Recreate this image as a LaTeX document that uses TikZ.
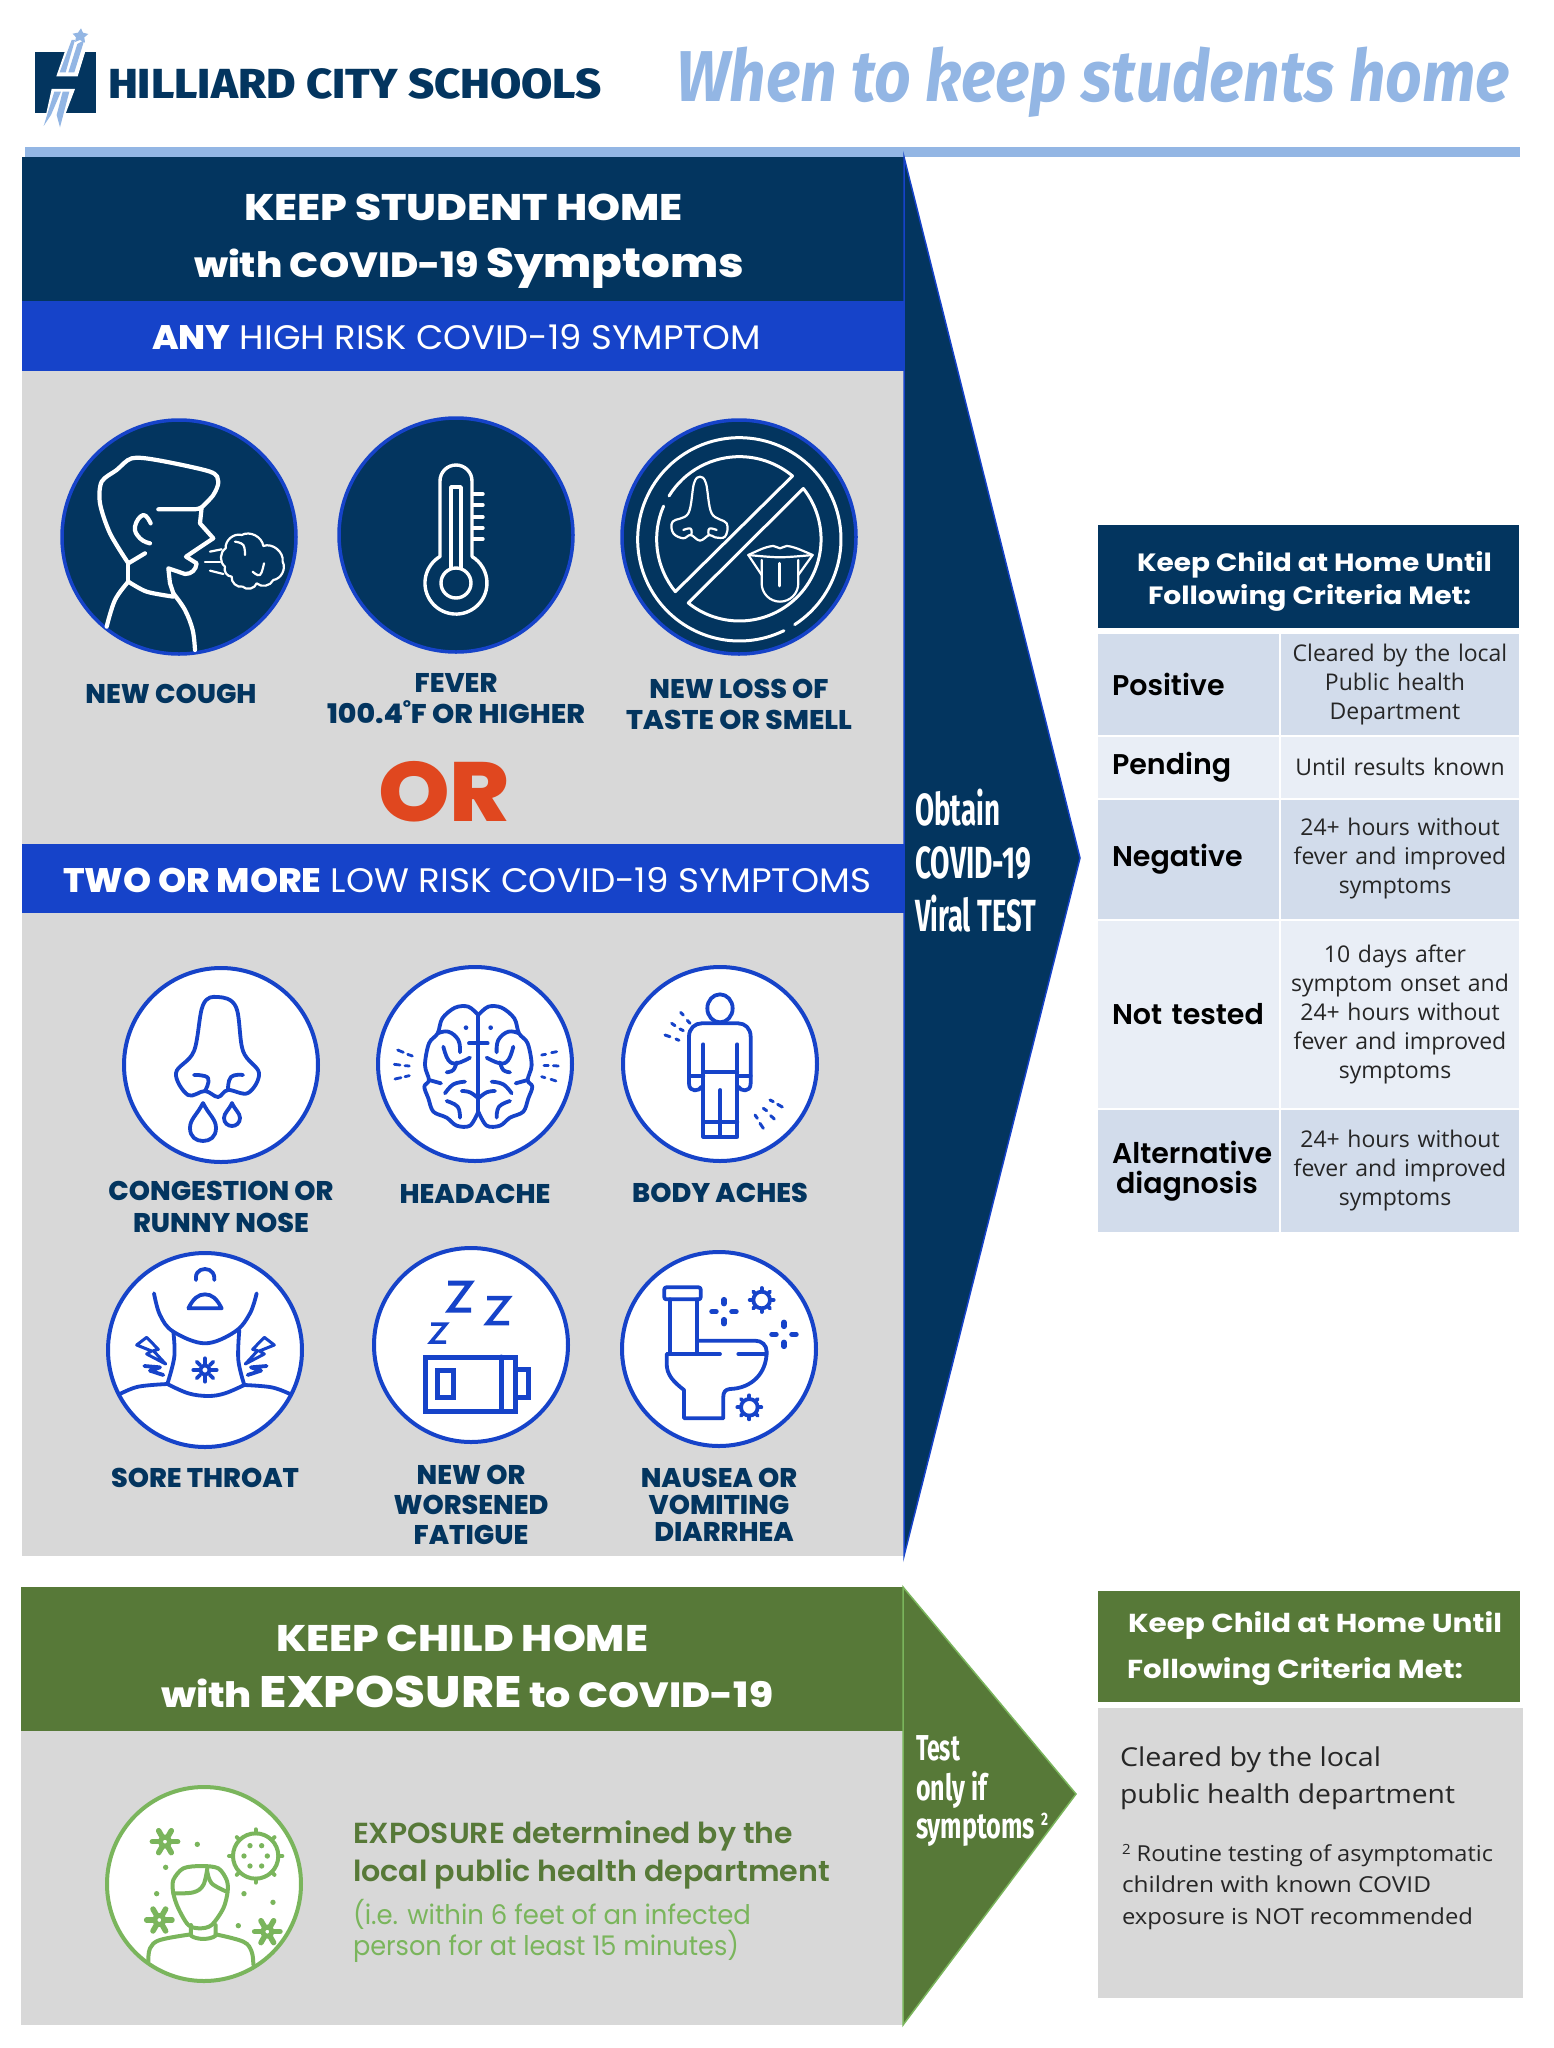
\documentclass[tikz,border=0pt]{standalone}
\usepackage{graphicx}
\usepackage{fontspec}
\setmainfont{Poppins}
\newfontfamily\narrowf{Fira Sans}
\newfontfamily\narrowb{Fira Sans ExtraBold}
\newfontfamily\bodyf{Open Sans}
\newfontfamily\blackf{Poppins ExtraBold}
\newfontfamily\semif{Poppins SemiBold}
\usetikzlibrary{positioning}
\newcommand{\fs}[2]{\fontsize{#1}{#2}\selectfont}
\newcommand{\fitw}[2]{\resizebox{#1}{\height}{#2}}
\definecolor{navy}{HTML}{03355F}
\definecolor{royal}{HTML}{1643C9}
\definecolor{pale}{HTML}{93B6E4}
\definecolor{panel}{HTML}{D8D8D8}
\definecolor{olive}{HTML}{577938}
\definecolor{leaf}{HTML}{7AB55C}
\definecolor{rowa}{HTML}{D2DCEB}
\definecolor{rowb}{HTML}{E9EEF6}
\definecolor{rust}{HTML}{E0471F}

\begin{document}
\begin{tikzpicture}[x=1pt,y=-1pt,node distance=0pt,
    band/.style={rectangle,minimum width=882pt,inner sep=0pt,outer sep=0pt},
    txt/.style={inner sep=0pt,outer sep=0pt,anchor=base west},
    lab/.style={inner sep=0pt,outer sep=0pt,align=center,text=navy,font=\blackf\fs{27}{31}},
    bigdisc/.style={circle,draw=royal,fill=navy,line width=3.5pt,minimum size=234pt,inner sep=0pt},
    smalldisc/.style={circle,draw=royal,fill=white,line width=4pt,minimum size=194pt,inner sep=0pt},
    lcell/.style={inner ysep=0pt,inner xsep=14pt,outer sep=0pt,text width=153pt,align=left,font=\semif\fs{28.5}{30}},
    rcell/.style={inner sep=0pt,outer sep=0pt,text width=238pt,align=center,text=black!85,font=\bodyf\fs{23}{29}},
    wline/.style={draw=white,line width=4.2pt,line cap=round,line join=round},
    wthin/.style={draw=white,line width=2.2pt,line cap=round,line join=round},
    bline/.style={draw=royal,line width=3.8pt,line cap=round,line join=round},
    gline/.style={draw=leaf,line width=4pt,line cap=round,line join=round}]

\useasboundingbox (0,0) rectangle (1554,2048);

\fill[navy] (35,52) rectangle (96,113);
\begin{scope}[shift={(25,20)},scale=.3333]
\fill[white] (94,169)--(130,65)--(190,65)--(158,169)--cycle;
\fill[white] (80,207)--(150,207)--(105,325)--(55,320)--cycle;
\fill[pale] (104,157)--(140,60)--(150,60)--(122,157)--cycle;
\fill[pale] (130,157)--(157,72)--(178,60)--(148,157)--cycle;
\fill[pale] (168,25)--(174,38)--(190,42)--(178,52)--(180,68)--(165,60)--(150,66)--(153,52)--(143,41)--(159,38)--cycle;
\fill[pale] (88,215)--(108,215)--(78,285)--(56,318)--cycle;
\fill[pale] (113,215)--(133,215)--(105,322)--(95,285)--cycle;
\end{scope}
\node[txt,text=navy,font=\narrowb\fs{42}{42}] (school) at (108,98) {\fitw{494pt}{HILLIARD CITY SCHOOLS}};
\node[txt,text=pale,font=\narrowf\bfseries\itshape\fs{72}{72}] (title) at (676,101) {\fitw{834pt}{When to keep students home}};
\fill[pale] (25,147) rectangle (1520,157);

\node[band,fill=navy,minimum height=144pt] (head) at (463,229) {};
\node[band,fill=royal,minimum height=70pt] (anybar) [below=of head] {};
\node[band,fill=panel,minimum height=473pt] (graya) [below=of anybar] {};
\node[band,fill=royal,minimum height=69pt] (twobar) [below=of graya] {};
\node[band,fill=panel,minimum height=643pt] (grayb) [below=of twobar] {};
\draw[fill=navy,draw=royal,line width=1.5pt] (head.north east) -- (1080,858) -- (grayb.south east) -- cycle;

\node[txt,text=white,font=\blackf\fs{37}{37}] (keepa) at (244,220) {\fitw{439pt}{KEEP STUDENT HOME}};
\node[txt,text=white,font=\blackf\fs{35}{35}] (keepb) at (194,277) {\fitw{550pt}{with COVID-19 {\fs{41}{41}Symptoms}}};
\node[txt,text=white,font=\fs{34}{34}] (anytxt) at (152,349) {\fitw{609pt}{{\blackf ANY} HIGH RISK COVID-19 SYMPTOM}};
\node[txt,text=white,font=\fs{34}{34}] (twotxt) at (63,892) {\fitw{808pt}{{\blackf TWO OR MORE} LOW RISK COVID-19 SYMPTOMS}};
\node[txt,text=rust,font=\blackf\fs{84}{84}] (ortxt) at (378,821) {\fitw{132pt}{OR}};

\node[bigdisc] (cough) at (179,537) {};
\node[bigdisc] (fever) at (456,535) {};
\node[bigdisc] (smell) at (739,537) {};
\node[lab] (coughl) [below=28pt of cough,xshift=-8pt] {NEW COUGH};
\node[lab] (feverl) [below=20pt of fever] {FEVER\\\fitw{258pt}{100.4˚F OR HIGHER}};
\node[lab] (smelll) [below=23pt of smell] {NEW LOSS OF\\\fitw{226pt}{TASTE OR SMELL}};

\begin{scope}[shift={(60,420)},scale=.3333]
\draw[wline] plot[smooth,tension=.5] coordinates {(205,430) (150,340) (120,250) (125,185) (170,150) (215,115) (290,120) (450,155) (475,185) (460,225) (425,262)};
\draw[wline] (295,268) -- (400,268) .. controls (412,268) and (420,265) .. (425,262) -- (420,310) -- (460,355) -- (415,385) -- (378,410) -- (410,430) .. controls (408,450) and (395,462) .. (375,462) -- (325,445) -- (330,490) -- (340,520);
\draw[wline] plot[smooth,tension=.6] coordinates {(340,520) (375,570) (398,630) (405,690)};
\draw[wline] plot[smooth,tension=.5] coordinates {(205,485) (260,515) (340,530)};
\draw[wline] (205,430) -- (205,485);
\draw[wline] plot[smooth,tension=.6] coordinates {(205,485) (165,540) (140,620)};
\draw[wline] (205,430) -- (255,400);
\draw[wline] plot[smooth,tension=.8] coordinates {(272,310) (250,285) (225,320) (240,355) (270,370)};
\draw[wthin] (495,440) to[bend left=55] (497,385) to[bend left=55] (545,345) to[bend left=55] (610,378) to[bend left=60] (668,425) to[bend left=55] (640,480) to[bend left=55] (590,490) to[bend left=60] (548,500) to[bend left=55] (515,470) to[bend left=55] cycle;
\draw[wthin] plot[smooth,tension=.7] coordinates {(525,365) (550,375) (555,405)};
\draw[wthin] plot[smooth,tension=.7] coordinates {(578,455) (600,465) (612,430)};
\draw[wthin] (450,395) -- (485,388);
\draw[wthin] (435,425) -- (480,425);
\draw[wthin] (450,452) -- (490,462);
\end{scope}

\begin{scope}[shift={(fever.center)}]
\draw[wline,line width=3.4pt] (16,21.5) -- (16,-54) arc[start angle=0,end angle=-180,radius=16] -- (-16,21.5) arc[start angle=239,end angle=-59,radius=31];
\draw[wline,line width=3.4pt] (0,48) circle[radius=15];
\draw[wline,line width=3.4pt] (5,33) -- (5,-48) -- (-5,-48) -- (-5,33);
\foreach \ty in {-41,-30,-18,-7,4} \draw[wline,line width=3.4pt] (17,\ty) -- (27,\ty);
\end{scope}

\begin{scope}[shift={(620,420)},scale=.3333]
\draw[wline,line width=3pt] (358,358) ++(57:305) arc[start angle=57,end angle=-296,radius=305];
\draw[wline,line width=3pt] (147,228) arc[start angle=211.6,end angle=310,radius=248] -- (166,515) arc[start angle=140.7,end angle=203.7,radius=248];
\draw[wline,line width=3pt] (550,205.5) arc[start angle=-38.5,end angle=128.8,radius=245] -- cycle;
\draw[wthin] plot[smooth cycle,tension=.6] coordinates {(205,280) (222,190) (240,170) (258,190) (275,280) (320,310) (315,350) (285,352) (268,345) (240,362) (212,345) (190,355) (160,340) (158,305)};
\draw[wthin] plot[smooth,tension=.8] coordinates {(190,330) (212,326) (214,345)};
\draw[wthin] plot[smooth,tension=.8] coordinates {(290,330) (268,326) (266,345)};
\draw[wthin] plot[smooth,tension=.5] coordinates {(385,405) (430,385) (460,378) (480,385) (500,378) (530,385) (578,405)};
\draw[wthin] plot[smooth,tension=.5] coordinates {(385,405) (480,412) (578,405)};
\draw[wthin] (425,420) -- (425,490) arc[start angle=180,end angle=0,radius=55] -- (535,420);
\draw[wthin] (385,405) -- (425,465);
\draw[wthin] (578,405) -- (535,465);
\draw[wline,line width=3pt] (480,430) -- (480,498);
\end{scope}

\node[smalldisc] (nose) at (221,1065) {};
\node[smalldisc] (brain) at (475,1064) {};
\node[smalldisc] (aches) at (720,1064) {};
\node[smalldisc] (throat) at (205,1350) {};
\node[smalldisc] (tired) at (471,1345) {};
\node[smalldisc] (toilet) at (719,1349) {};

\node[lab,font=\blackf\fs{27}{32}] (nosel) [below=17pt of nose] {CONGESTION OR\\RUNNY NOSE};
\node[lab] (brainl) [below=21pt of brain] {HEADACHE};
\node[lab] (achesl) [below=20pt of aches] {BODY ACHES};
\node[lab] (throatl) [below=19pt of throat] {SORE THROAT};
\node[lab,font=\blackf\fs{27}{30}] (tiredl) [below=21pt of tired] {NEW OR\\WORSENED\\FATIGUE};
\node[lab,font=\blackf\fs{27}{27}] (toiletl) [below=20pt of toilet] {NAUSEA OR\\VOMITING\\\hspace*{10pt}DIARRHEA};

\begin{scope}[shift={(nose.center)}]
\draw[bline] plot[smooth cycle,tension=.6] coordinates {(-27,-14) (-18,-60) (-3,-68) (15,-58) (22,-14) (38,8) (27,28) (7,25) (-3,32) (-16,26) (-33,30) (-45,8)};
\draw[bline] plot[smooth,tension=.8] coordinates {(-27,10) (-13,13) (-16,26)};
\draw[bline] plot[smooth,tension=.8] coordinates {(22,10) (10,12) (7,25)};
\draw[bline] (-18,38) .. controls (-24,50) and (-31,54) .. (-31,63) .. controls (-31,72) and (-25,76) .. (-18,76) .. controls (-11,76) and (-5,72) .. (-5,63) .. controls (-5,54) and (-12,50) .. cycle;
\draw[bline] (11,38) .. controls (8,45) and (3,48) .. (3,53) .. controls (3,58) and (7,61) .. (11,61) .. controls (15,61) and (19,58) .. (19,53) .. controls (19,48) and (14,45) .. cycle;
\end{scope}

\begin{scope}[shift={(375,965)},scale=.3333]
\draw[bline] (310,150) -- (310,440);
\draw[bline] (282,235) -- (338,235);
\foreach \sg in {1,-1} {
\begin{scope}[shift={(310,0)},xscale=\sg]
\draw[bline] plot[smooth,tension=.55] coordinates {(0,150) (30,125) (70,128) (108,160) (122,205) (148,235) (160,300) (148,345) (162,365) (150,400) (135,440) (95,458) (65,482) (25,482) (0,440)};
\draw[bline] plot[smooth,tension=.7] coordinates {(55,262) (60,225) (90,200) (122,205)};
\draw[bline] plot[smooth,tension=.7] coordinates {(25,278) (65,295) (90,285) (105,245)};
\draw[bline] plot[smooth,tension=.7] coordinates {(65,292) (75,315) (95,322)};
\draw[bline] (112,355) -- (148,345);
\draw[bline] plot[smooth,tension=.7] coordinates {(40,350) (75,358) (100,385)};
\draw[bline] plot[smooth,tension=.7] coordinates {(0,400) (25,382) (50,378)};
\draw[bline] plot[smooth,tension=.7] coordinates {(55,458) (62,425) (95,408)};
\fill[royal] (37,188) circle[radius=7];
\end{scope}
}
\foreach \ax/\ay/\bx/\by in {500/270/512/268,530/263/545/260,507/302/520/302,535/302/550/303,500/335/510/338,528/343/543/348,68/255/85/262,98/268/112/273,58/298/75/300,90/302/103/303,60/342/78/338,90/335/103/332}
  \draw[bline,line width=2.8pt] (\ax,\ay) -- (\bx,\by);
\end{scope}

\begin{scope}[shift={(620,965)},scale=.3333]
\draw[bline] (300,130) ellipse[x radius=38,y radius=42];
\draw[bline] (245,365) .. controls (240,378) and (207,385) .. (207,355) -- (207,215) .. controls (207,190) and (225,175) .. (245,175) -- (355,175) .. controls (375,175) and (392,190) .. (392,215) -- (392,355) .. controls (392,385) and (360,378) .. (355,365);
\draw[bline] (250,238) -- (250,515) -- (352,515) -- (352,238);
\draw[bline] (250,320) -- (352,320);
\draw[bline] (207,332) -- (250,332);
\draw[bline] (352,332) -- (392,332);
\draw[bline] (301,375) -- (301,515);
\draw[bline] (250,472) -- (352,472);
\foreach \ax/\ay/\bx/\by in {182/142/190/150,202/166/210/175,155/175/165/182,180/192/190/197,135/210/150/215,168/222/177/226,450/405/460/410,473/418/487/426,430/430/440/437,452/452/463/462,405/450/412/460,420/475/430/490}
  \draw[bline,line width=3pt] (\ax,\ay) -- (\bx,\by);
\end{scope}

\begin{scope}[shift={(105,1250)},scale=.3333]
\draw[bline] plot[smooth,tension=.6] coordinates {(147,130) (165,195) (205,245) (300,280) (390,245) (435,190) (455,130)};
\draw[bline] plot[smooth,tension=.6] coordinates {(205,245) (208,320) (187,402)};
\draw[bline] plot[smooth,tension=.6] coordinates {(403,240) (400,330) (418,405)};
\draw[bline] plot[smooth,tension=.6] coordinates {(45,432) (100,410) (187,402)};
\draw[bline] plot[smooth,tension=.6] coordinates {(187,402) (250,430) (310,438) (360,430) (418,405)};
\draw[bline] plot[smooth,tension=.6] coordinates {(418,405) (500,412) (555,432)};
\draw[bline] (250,175) -- (350,175) .. controls (335,145) and (320,133) .. (300,133) .. controls (280,133) and (265,145) .. cycle;
\draw[bline] plot[smooth,tension=.8] coordinates {(273,90) (277,68) (300,57) (323,68) (328,90)};
\draw[bline] (300,360) circle[radius=14];
\foreach \a in {0,45,...,315} \draw[bline] (300,360) ++(\a:20) -- ++(\a:15);
\foreach \sg/\ox in {1/0,-1/603} {
\begin{scope}[shift={(\ox,0)},xscale=\sg]
\draw[bline,line width=3pt] (95,285) -- (125,262) -- (160,298) -- (145,302) -- (182,342) -- (125,312) -- (140,303) -- cycle;
\draw[bline] (118,348) -- (165,352) -- (135,362) -- (175,375);
\end{scope}
}
\end{scope}

\begin{scope}[shift={(tired.center)}]
\draw[bline,line width=5pt,line cap=butt,line join=miter] (-23,-62) -- (-1,-62) -- (-21,-35) -- (0,-35);
\draw[bline,line width=4.5pt,line cap=butt,line join=miter] (16,-47) -- (37,-47) -- (17,-22) -- (38,-22);
\draw[bline,line width=3.5pt,line cap=butt,line join=miter] (-40,-21) -- (-25,-21) -- (-40,-3) -- (-25,-3);
\draw[bline,line width=5pt,line join=miter] (-46,12) rectangle (44,66);
\draw[bline,line width=5pt,line join=miter] (30,12) -- (30,66);
\draw[bline,line width=5pt,line join=miter] (44,24) rectangle (57,52);
\draw[bline,line width=5pt,line join=miter] (-34,25) rectangle (-18,52);
\end{scope}

\begin{scope}[shift={(620,1250)},scale=.3333]
\draw[bline,rounded corners=2pt] (133,112) rectangle (242,148);
\draw[bline] (150,148) -- (150,312);
\draw[bline] (232,148) -- (232,305);
\draw[bline] (142,312) -- (300,312);
\draw[bline] (355,312) -- (440,312);
\draw[bline] (232,272) -- (405,272) .. controls (425,272) and (440,285) .. (440,305) .. controls (440,370) and (395,415) .. (330,417) .. controls (315,418) and (310,428) .. (310,440) -- (310,505) -- (192,505) -- (192,420) .. controls (160,395) and (140,375) .. (140,340) -- (140,312);
\foreach \cx/\cy/\rr in {425/150/25,388/472/25} {
  \draw[bline] (\cx,\cy) circle[radius=\rr];
  \foreach \a in {0,45,...,315} \draw[bline] (\cx,\cy) ++(\a:\rr) -- ++(\a:11);
}
\foreach \cx/\cy in {312/185,492/253} {
  \foreach \a in {0,90,180,270} \draw[bline,line width=5.5pt] (\cx,\cy) ++(\a:24) -- ++(\a:12);
}
\end{scope}

\node[rectangle,fill=navy,inner sep=0pt,outer sep=0pt,minimum width=421pt,minimum height=103pt] (tabhead) at (1308.5,576.5) {};
\node[txt,text=white,font=\bfseries\fs{25}{25}] (tabhda) at (1137,571) {\fitw{355pt}{Keep Child at Home Until}};
\node[txt,text=white,font=\bfseries\fs{25}{25}] (tabhdb) at (1148,604) {\fitw{323pt}{Following Criteria Met:}};
\node[lcell,fill=rowa,minimum height=101pt] (posl) [below right=6pt and 0pt of tabhead.south west] {Positive};
\node[rcell,fill=rowa,minimum height=101pt] (posr) [right=2pt of posl] {Cleared by the local\\\hspace*{-10pt}Public health\\\hspace*{-10pt}Department};
\node[lcell,fill=rowb,minimum height=60.5pt] (penl) [below=2pt of posl] {Pending};
\node[rcell,fill=rowb,minimum height=60.5pt] (penr) [right=2pt of penl] {Until results known};
\node[lcell,fill=rowa,minimum height=119pt] (negl) [below=2pt of penl] {Negative};
\node[rcell,fill=rowa,minimum height=119pt] (negr) [right=2pt of negl] {24+ hours without\\fever and improved\\\hspace*{-10pt}symptoms};
\node[lcell,fill=rowb,minimum height=187.5pt] (notl) [below=2pt of negl] {Not tested};
\node[rcell,fill=rowb,minimum height=187.5pt] (notr) [right=2pt of notl] {\hspace*{-10pt}10 days after\\symptom onset and\\24+ hours without\\fever and improved\\\hspace*{-10pt}symptoms};
\node[lcell,fill=rowa,minimum height=122pt] (altl) [below=2pt of notl] {Alternative\\\hspace*{4pt}diagnosis};
\node[rcell,fill=rowa,minimum height=122pt] (altr) [right=2pt of altl] {24+ hours without\\fever and improved\\\hspace*{-10pt}symptoms};

\node[txt,text=white,font=\narrowf\bfseries\fs{45}{45}] (obta) at (915,825) {\fitw{85pt}{Obtain}};
\node[txt,text=white,font=\narrowf\bfseries\fs{45}{45}] (obtb) at (915,878) {\fitw{116pt}{COVID-19}};
\node[txt,text=white,font=\narrowf\bfseries\fs{45}{45}] (obtc) at (915,931) {\fitw{121pt}{Viral TEST}};

\node[band,fill=olive,minimum height=144pt] (ghead) at (462,1659) {};
\node[band,fill=panel,minimum height=294pt] (gbody) [below=of ghead] {};
\draw[fill=olive,draw=leaf,line width=1.5pt] (ghead.north east) -- (1076,1794) -- (gbody.south east) -- cycle;

\node[txt,text=white,font=\blackf\fs{37}{37}] (gkeepa) at (276,1651) {\fitw{372pt}{KEEP CHILD HOME}};
\node[txt,text=white,font=\blackf\fs{35}{35}] (gkeepb) at (161,1707) {\fitw{612pt}{with {\fs{44}{44}EXPOSURE} to COVID-19}};

\node[smalldisc,draw=leaf] (expo) at (204,1884) {};
\begin{scope}[shift={(105,1785)},scale=.3333]
\draw[gline] plot[smooth cycle,tension=.5] coordinates {(205,325) (205,285) (235,250) (290,243) (340,250) (365,285) (368,320) (355,370) (320,420) (285,430) (250,420) (220,370)};
\draw[gline] plot[smooth,tension=.6] coordinates {(205,325) (265,322) (295,300) (307,250)};
\draw[gline] plot[smooth,tension=.6] coordinates {(307,260) (320,295) (365,320)};
\draw[gline] (258,420) -- (258,452) .. controls (275,465) and (315,465) .. (332,452) -- (332,420);
\draw[gline] plot[smooth,tension=.6] coordinates {(130,530) (135,490) (165,465) (258,448)};
\draw[gline] plot[smooth,tension=.6] coordinates {(332,448) (415,470) (440,500) (445,538)};
\draw[gline] (452,213) circle[radius=68];
\foreach \a in {0,45,...,315} \draw[gline] (452,213) ++(\a:68) -- ++(\a:12);
\foreach \dx/\dy in {435/182,470/182,417/213,487/213,435/243,470/243} \fill[leaf] (\dx,\dy) circle[radius=8];
\foreach \dx/\dy in {277/178,182/247,155/326,417/326,504/352,400/422} \fill[leaf] (\dx,\dy) circle[radius=8];
\foreach \cx/\cy in {180/170,163/405,487/440} {
  \draw[gline,line width=5pt] (\cx,\cy) circle[radius=14];
  \foreach \a in {0,60,...,300} \draw[gline,line width=5.5pt] (\cx,\cy) ++(\a:20) -- ++(\a:18);
}
\end{scope}

\node[txt,text=olive,font=\semif\fs{29}{29}] (expa) at (353,1843) {\fitw{440pt}{EXPOSURE determined by the}};
\node[txt,text=olive,font=\semif\fs{29}{29}] (expb) at (353,1881) {\fitw{477pt}{local public health department}};
\node[txt,text=leaf,font=\fs{27}{27}] (expc) at (353,1924) {\fitw{398pt}{(i.e. within 6 feet of an infected}};
\node[txt,text=leaf,font=\fs{27}{27}] (expd) at (353,1955) {\fitw{386pt}{person for at least 15 minutes)}};

\node[txt,text=white,font=\narrowf\bfseries\fs{36}{36}] (testa) at (916,1760) {\fitw{44pt}{Test}};
\node[txt,text=white,font=\narrowf\bfseries\fs{36}{36}] (testb) at (916,1800) {\fitw{71pt}{only if}};
\node[txt,text=white,font=\narrowf\bfseries\fs{36}{36}] (testc) at (916,1838) {\fitw{119pt}{symptoms}};
\node[txt,text=white,font=\narrowf\bfseries\fs{18}{18}] (testd) [right=6pt of testc.base east,anchor=base west,yshift=13pt] {\fitw{7pt}{2}};

\node[rectangle,fill=olive,inner sep=0pt,outer sep=0pt,minimum width=422pt,minimum height=111pt] (crit) at (1309,1646.5) {};
\node[rectangle,fill=panel,inner sep=0pt,outer sep=0pt,minimum width=425pt,minimum height=290pt] (critbody) at (1310.5,1853) {};
\node[txt,text=white,font=\bfseries\fs{26}{26}] (crita) at (1128,1632) {\fitw{374pt}{Keep Child at Home Until}};
\node[txt,text=white,font=\bfseries\fs{26}{26}] (critb) at (1127,1678) {\fitw{336pt}{Following Criteria Met:}};
\node[txt,text=black!85,font=\bodyf\fs{26}{26}] (clra) at (1120,1766) {\fitw{261pt}{Cleared by the local}};
\node[txt,text=black!85,font=\bodyf\fs{26}{26}] (clrb) at (1120,1803) {\fitw{335pt}{public health department}};
\node[txt,text=black!85,font=\bodyf\fs{22}{22}] (noteb) at (1122,1861) {\fitw{371pt}{{\fs{14}{14}\raisebox{7pt}{2}} Routine testing of asymptomatic}};
\node[txt,text=black!85,font=\bodyf\fs{22}{22}] (notec) at (1122,1892) {\fitw{309pt}{children with known COVID}};
\node[txt,text=black!85,font=\bodyf\fs{22}{22}] (noted) at (1122,1924) {\fitw{351pt}{exposure is NOT recommended}};
\end{tikzpicture}
\end{document}
